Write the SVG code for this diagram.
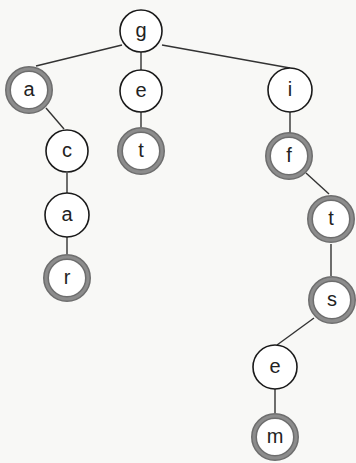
<svg xmlns="http://www.w3.org/2000/svg" width="356" height="463" viewBox="0 0 356 463">
<style>
.n{fill:#fff;stroke:#1a1a1a;stroke-width:1.6}
.t{fill:#fff;stroke:#6e6e6e;stroke-width:6}
.ti{fill:none;stroke:#8c8c8c;stroke-width:3}
.e{stroke:#333;stroke-width:1.4;fill:none}
text{font-family:"Liberation Sans",Arial,sans-serif;font-size:20px;fill:#222;text-anchor:middle;dominant-baseline:central}
</style>
<rect width="356" height="463" fill="#f8f8f6"/>
<g id="connectors">
<line class="e" x1="122" y1="45" x2="36" y2="66"/>
<line class="e" x1="141" y1="52" x2="141" y2="70"/>
<line class="e" x1="162" y1="45" x2="290" y2="68"/>
<line class="e" x1="46" y1="108" x2="64" y2="129"/>
<line class="e" x1="141" y1="112" x2="141" y2="127"/>
<line class="e" x1="67" y1="173" x2="67" y2="193"/>
<line class="e" x1="67" y1="237" x2="67" y2="254"/>
<line class="e" x1="290" y1="112" x2="290" y2="133"/>
<line class="e" x1="306" y1="173" x2="329" y2="194"/>
<line class="e" x1="331" y1="244" x2="331" y2="276"/>
<line class="e" x1="314" y1="318" x2="277" y2="345"/>
<line class="e" x1="275" y1="389" x2="275" y2="413"/>
</g>
<g id="node-g"><circle class="n" cx="141" cy="31" r="21"/><text x="141" y="30">g</text></g>
<g id="node-a1"><circle class="t" cx="29" cy="90" r="21"/><circle class="ti" cx="29" cy="90" r="21"/><text x="29" y="89">a</text></g>
<g id="node-e1"><circle class="n" cx="141" cy="91" r="21"/><text x="141" y="90">e</text></g>
<g id="node-i"><circle class="n" cx="290" cy="90" r="22"/><text x="290" y="89">i</text></g>
<g id="node-c"><circle class="n" cx="67" cy="151" r="21"/><text x="67" y="150">c</text></g>
<g id="node-t1"><circle class="t" cx="141" cy="151" r="21"/><circle class="ti" cx="141" cy="151" r="21"/><text x="141" y="150">t</text></g>
<g id="node-a2"><circle class="n" cx="67" cy="215" r="22"/><text x="67" y="214">a</text></g>
<g id="node-r"><circle class="t" cx="67" cy="278" r="21"/><circle class="ti" cx="67" cy="278" r="21"/><text x="67" y="277">r</text></g>
<g id="node-f"><circle class="t" cx="289" cy="156" r="21"/><circle class="ti" cx="289" cy="156" r="21"/><text x="289" y="155">f</text></g>
<g id="node-t2"><circle class="t" cx="331" cy="219" r="21"/><circle class="ti" cx="331" cy="219" r="21"/><text x="331" y="218">t</text></g>
<g id="node-s"><circle class="t" cx="332" cy="300" r="21"/><circle class="ti" cx="332" cy="300" r="21"/><text x="332" y="299">s</text></g>
<g id="node-e2"><circle class="n" cx="275" cy="367" r="22"/><text x="275" y="366">e</text></g>
<g id="node-m"><circle class="t" cx="275" cy="437" r="21"/><circle class="ti" cx="275" cy="437" r="21"/><text x="275" y="436">m</text></g>
</svg>
